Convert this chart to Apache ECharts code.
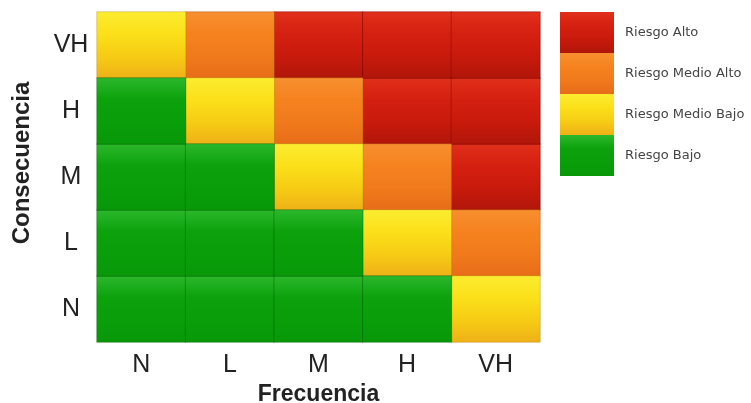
<!DOCTYPE html>
<html><head><meta charset="utf-8">
<script src="https://cdn.jsdelivr.net/npm/echarts@6/dist/echarts.min.js"></script>
<style>html,body{margin:0;padding:0;background:#fff}#c{width:751px;height:403px}</style>
</head><body><div id="c"></div>
<script>
const frecuencia = ['N', 'L', 'M', 'H', 'VH'];
const consecuencia = ['N', 'L', 'M', 'H', 'VH'];
const riskNames = ['Riesgo Alto', 'Riesgo Medio Alto', 'Riesgo Medio Bajo', 'Riesgo Bajo'];
// risk level per row (consecuencia, bottom to top) and column (frecuencia): 0=Alto,1=Medio Alto,2=Medio Bajo,3=Bajo
const matrixN  = [3, 3, 3, 3, 2];
const matrixL  = [3, 3, 3, 2, 1];
const matrixM  = [3, 3, 2, 1, 0];
const matrixH  = [3, 2, 1, 0, 0];
const matrixVH = [2, 1, 0, 0, 0];
const rows = [matrixN, matrixL, matrixM, matrixH, matrixVH];

function grad(stops) {
  return new echarts.graphic.LinearGradient(0, 0, 0, 1, stops.map((c, i) => ({offset: i / (stops.length - 1), color: c})));
}
const colors = [
  grad(['#e0301a', '#d42010', '#c81a0c', '#b0160a']),
  grad(['#f89030', '#f5821f', '#f07a1c', '#e86c18']),
  grad(['#fcec30', '#fbe01a', '#f6cc14', '#eeb018']),
  grad(['#2cb82c', '#0ca20c', '#0a9e0a', '#089808'])
];
const borders = ['rgba(110,0,0,0.45)', 'rgba(150,60,0,0.35)', 'rgba(160,110,0,0.3)', 'rgba(0,70,0,0.35)'];

const series = riskNames.map((name, k) => {
  const data = [];
  rows.forEach((row, yi) => row.forEach((lvl, xi) => { if (lvl === k) data.push([xi, yi, k]); }));
  return {
    type: 'heatmap', name, data,
    itemStyle: {color: colors[k], borderColor: borders[k], borderWidth: 1},
    emphasis: {disabled: true}
  };
});

const chart = echarts.init(document.getElementById('c'), null, {renderer: 'canvas'});
chart.setOption({
  animation: false,
  backgroundColor: '#fff',
  grid: {left: 97, right: 211, top: 12, bottom: 61, outerBoundsMode: 'none', containLabel: false},
  legend: {
    orient: 'vertical', left: 560, top: 12, padding: 0,
    itemWidth: 54, itemHeight: 41, itemGap: 0, icon: 'rect',
    selectedMode: false,
    itemStyle: {borderWidth: 0},
    textStyle: {fontFamily: 'DejaVu Sans', fontSize: 13, color: '#444', padding: [0, 0, 0, 6]},
    data: riskNames
  },
  xAxis: {
    type: 'category', data: frecuencia,
    name: 'Frecuencia', nameLocation: 'middle', nameGap: 40,
    nameTextStyle: {fontFamily: 'Liberation Sans', fontWeight: 'bold', fontSize: 23, color: '#222'},
    axisLine: {show: false}, axisTick: {show: false}, splitLine: {show: false},
    axisLabel: {fontFamily: 'Liberation Sans', fontSize: 25, color: '#222', margin: 11}
  },
  yAxis: {
    type: 'category', data: consecuencia,
    name: 'Consecuencia', nameLocation: 'middle', nameGap: 63, nameRotate: 90,
    nameTextStyle: {fontFamily: 'Liberation Sans', fontWeight: 'bold', fontSize: 24, color: '#222', padding: [0, 0, 0, 28]},
    axisLine: {show: false}, axisTick: {show: false}, splitLine: {show: false},
    axisLabel: {fontFamily: 'Liberation Sans', fontSize: 25, color: '#222', margin: 26, align: 'center'}
  },
  series
});
</script>
</body></html>
